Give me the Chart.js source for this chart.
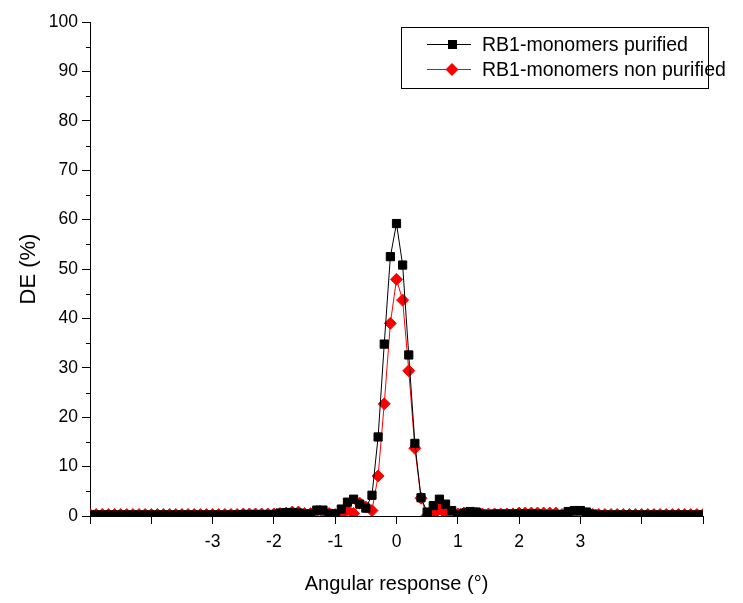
<!DOCTYPE html>
<html>
<head>
<meta charset="utf-8">
<script src="https://cdn.jsdelivr.net/npm/chart.js@4"></script>
<style>
  body { margin: 0; background: #fff; }
</style>
</head>
<body>
<canvas id="deChart" width="743" height="603"></canvas>
<script>
// angle grid (degrees)
const angles = [
  -5.0, -4.9, -4.8, -4.7, -4.6, -4.5, -4.4, -4.3, -4.2, -4.1,
  -4.0, -3.9, -3.8, -3.7, -3.6, -3.5, -3.4, -3.3, -3.2, -3.1,
  -3.0, -2.9, -2.8, -2.7, -2.6, -2.5, -2.4, -2.3, -2.2, -2.1,
  -2.0, -1.9, -1.8, -1.7, -1.6, -1.5, -1.4, -1.3, -1.2, -1.1,
  -1.0, -0.9, -0.8, -0.7, -0.6, -0.5, -0.4, -0.3, -0.2, -0.1,
  0.0, 0.1, 0.2, 0.3, 0.4, 0.5, 0.6, 0.7, 0.8, 0.9,
  1.0, 1.1, 1.2, 1.3, 1.4, 1.5, 1.6, 1.7, 1.8, 1.9,
  2.0, 2.1, 2.2, 2.3, 2.4, 2.5, 2.6, 2.7, 2.8, 2.9,
  3.0, 3.1, 3.2, 3.3, 3.4, 3.5, 3.6, 3.7, 3.8, 3.9,
  4.0, 4.1, 4.2, 4.3, 4.4, 4.5, 4.6, 4.7, 4.8, 4.9,
  5.0
];

// DE (%)
const purified = [
  0.2, 0.2, 0.2, 0.2, 0.2, 0.2, 0.2, 0.2, 0.2, 0.2,
  0.2, 0.2, 0.2, 0.2, 0.2, 0.2, 0.2, 0.2, 0.2, 0.2,
  0.2, 0.2, 0.2, 0.2, 0.2, 0.3, 0.3, 0.3, 0.3, 0.3,
  0.3, 0.6, 0.7, 0.7, 0.6, 0.4, 0.4, 1.2, 1.2, 0.5,
  0.4, 1.4, 2.8, 3.4, 2.4, 1.6, 4.2, 16.0, 34.8, 52.5,
  59.2, 50.8, 32.6, 14.7, 3.7, 0.8, 2.1, 3.4, 2.4, 1.1,
  0.2, 0.6, 0.9, 0.8, 0.4, 0.3, 0.4, 0.4, 0.4, 0.4,
  0.4, 0.4, 0.4, 0.4, 0.3, 0.3, 0.3, 0.3, 0.9, 1.1,
  1.1, 0.8, 0.4, 0.2, 0.2, 0.2, 0.2, 0.2, 0.2, 0.2,
  0.2, 0.2, 0.2, 0.2, 0.2, 0.2, 0.2, 0.2, 0.2, 0.2,
  0.2
];

const nonPurified = [
  0.3, 0.3, 0.3, 0.3, 0.3, 0.3, 0.3, 0.3, 0.3, 0.3,
  0.3, 0.3, 0.3, 0.3, 0.3, 0.3, 0.3, 0.3, 0.3, 0.3,
  0.3, 0.3, 0.3, 0.3, 0.3, 0.4, 0.4, 0.4, 0.4, 0.4,
  0.4, 0.5, 0.6, 0.8, 0.8, 0.5, 0.5, 0.9, 0.8, 0.5,
  0.3, 0.2, 1.2, 0.5, 2.6, 1.8, 1.1, 8.1, 22.7, 39.0,
  47.9, 43.7, 29.4, 13.7, 3.6, 0.1, 0.3, 1.5, 0.5, 0.3,
  0.4, 0.6, 0.6, 0.5, 0.4, 0.4, 0.4, 0.4, 0.4, 0.4,
  0.6, 0.6, 0.6, 0.6, 0.6, 0.6, 0.6, 0.3, 0.3, 0.3,
  0.3, 0.3, 0.3, 0.3, 0.3, 0.3, 0.3, 0.3, 0.3, 0.3,
  0.3, 0.3, 0.3, 0.3, 0.3, 0.3, 0.3, 0.3, 0.3, 0.3,
  0.3
];

const seriesNames = ['RB1-monomers purified', 'RB1-monomers non purified'];

const FONT = '"Liberation Sans", Arial, sans-serif';

const toPoints = (vals) => vals.map((v, i) => ({ x: angles[i], y: v }));

// minor ticks on the y axis (every 5)
const minorTicks = {
  id: 'minorTicks',
  afterDraw(chart) {
    const ctx = chart.ctx;
    const y = chart.scales.y;
    ctx.save();
    ctx.strokeStyle = '#000';
    ctx.lineWidth = 1;
    for (let v = 5; v < 100; v += 10) {
      const py = Math.round(y.getPixelForValue(v)) + 0.5;
      ctx.beginPath();
      ctx.moveTo(y.right - 4, py);
      ctx.lineTo(y.right, py);
      ctx.stroke();
    }
    ctx.restore();
  }
};

// boxed legend in the top right corner of the plot
const boxLegend = {
  id: 'boxLegend',
  afterDraw(chart) {
    const ctx = chart.ctx;
    const bx = 401, by = 27, bw = 307, bh = 61;
    ctx.save();
    ctx.fillStyle = '#fff';
    ctx.fillRect(bx, by, bw, bh);
    ctx.strokeStyle = '#000';
    ctx.lineWidth = 1;
    ctx.strokeRect(bx + 0.5, by + 0.5, bw, bh);

    const rows = [44, 69];
    chart.data.datasets.forEach((ds, i) => {
      const ry = rows[i] + 0.5;
      ctx.strokeStyle = ds.borderColor;
      ctx.beginPath();
      ctx.moveTo(427, ry);
      ctx.lineTo(471, ry);
      ctx.stroke();
      ctx.fillStyle = ds.backgroundColor;
      ctx.beginPath();
      if (i === 0) {
        ctx.rect(448, ry - 4.5, 9, 9);
      } else {
        ctx.moveTo(452, ry - 6.5);
        ctx.lineTo(458.5, ry);
        ctx.lineTo(452, ry + 6.5);
        ctx.lineTo(445.5, ry);
        ctx.closePath();
      }
      ctx.fill();
      ctx.fillStyle = '#000';
      ctx.font = '19.5px ' + FONT;
      ctx.textBaseline = 'middle';
      ctx.textAlign = 'left';
      ctx.fillText(ds.label, 482, ry + 1);
    });
    ctx.restore();
  }
};

const ctx = document.getElementById('deChart').getContext('2d');
new Chart(ctx, {
  type: 'line',
  data: {
    datasets: [{
      label: seriesNames[0],
      data: toPoints(purified),
      borderColor: '#000000',
      backgroundColor: '#000000',
      borderWidth: 1,
      pointStyle: 'rect',
      pointRadius: 5.8,
      pointBorderWidth: 1,
      tension: 0
    }, {
      label: seriesNames[1],
      data: toPoints(nonPurified),
      borderColor: '#ff0000',
      backgroundColor: '#ff0000',
      borderWidth: 1,
      pointStyle: 'rectRot',
      pointRadius: 6,
      pointBorderWidth: 1,
      tension: 0
    }]
  },
  options: {
    responsive: false,
    animation: false,
    layout: { padding: { left: 0, right: 40, top: 22, bottom: 0 } },
    plugins: {
      legend: { display: false },
      tooltip: { enabled: false }
    },
    scales: {
      x: {
        type: 'linear',
        min: -5,
        max: 5,
        afterFit: (s) => { s.height = 87; },
        ticks: {
          stepSize: 1,
          color: '#000',
          padding: 8,
          maxRotation: 0,
          autoSkip: false,
          font: { family: FONT, size: 17.5 },
          callback: (v) => (Math.abs(v) <= 3 ? v : '')
        },
        grid: { drawOnChartArea: false, tickLength: 8, color: '#000' },
        border: { color: '#000', width: 1 },
        title: {
          display: true,
          text: 'Angular response (°)',
          color: '#000',
          font: { family: FONT, size: 20 },
          padding: { top: 0, bottom: 7 }
        }
      },
      y: {
        min: 0,
        max: 100,
        afterFit: (s) => { s.width = 90; },
        ticks: {
          stepSize: 10,
          color: '#000',
          padding: 4,
          font: { family: FONT, size: 17.5 }
        },
        grid: { drawOnChartArea: false, tickLength: 8, color: '#000' },
        border: { color: '#000', width: 1 },
        title: {
          display: true,
          text: 'DE (%)',
          color: '#000',
          font: { family: FONT, size: 22 },
          padding: { top: 16, bottom: 0 }
        }
      }
    }
  },
  plugins: [minorTicks, boxLegend]
});
</script>
</body>
</html>
